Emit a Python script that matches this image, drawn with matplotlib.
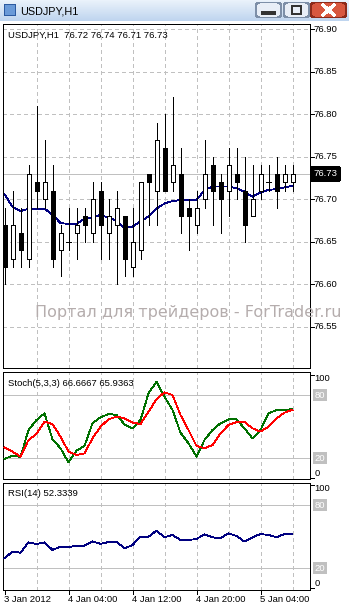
import numpy as np
import matplotlib.pyplot as plt
from matplotlib import transforms
from matplotlib.patches import Rectangle, FancyBboxPatch

plt.rcParams['font.family'] = ['Liberation Sans', 'DejaVu Sans']
plt.rcParams['lines.scale_dashes'] = False
plt.rcParams['lines.antialiased'] = False
plt.rcParams['patch.antialiased'] = False

W, H = 349, 606
LW = 0.72  # one pixel
LT = 0.6   # thin data lines

symbol = "USDJPY,H1"
opens = [76.67, 76.63, 76.66, 76.63, 76.72, 76.70, 76.71, 76.64, 76.65, 76.66,
         76.68, 76.66, 76.71, 76.66, 76.67, 76.68, 76.62, 76.64, 76.73, 76.71,
         76.76, 76.72, 76.73, 76.69, 76.67, 76.70, 76.74, 76.72, 76.71, 76.73,
         76.71, 76.68, 76.71, 76.72, 76.73, 76.72, 76.72]
highs = [76.69, 76.71, 76.69, 76.74, 76.81, 76.77, 76.74, 76.67, 76.69, 76.69,
         76.69, 76.72, 76.72, 76.70, 76.71, 76.68, 76.69, 76.72, 76.73, 76.79,
         76.80, 76.82, 76.76, 76.70, 76.71, 76.77, 76.75, 76.73, 76.76, 76.76,
         76.75, 76.74, 76.74, 76.74, 76.75, 76.74, 76.74]
lows = [76.60, 76.62, 76.62, 76.62, 76.69, 76.69, 76.62, 76.61, 76.64, 76.63,
        76.65, 76.65, 76.63, 76.63, 76.60, 76.61, 76.61, 76.63, 76.67, 76.67,
        76.71, 76.71, 76.66, 76.64, 76.66, 76.69, 76.67, 76.66, 76.68, 76.70,
        76.65, 76.68, 76.70, 76.71, 76.69, 76.71, 76.71]
closes = [76.62, 76.67, 76.64, 76.73, 76.71, 76.72, 76.63, 76.66, 76.65, 76.67,
          76.67, 76.70, 76.67, 76.68, 76.69, 76.63, 76.65, 76.72, 76.72, 76.77,
          76.71, 76.74, 76.68, 76.68, 76.69, 76.73, 76.71, 76.70, 76.74, 76.72,
          76.67, 76.70, 76.73, 76.72, 76.71, 76.73, 76.73]
ma = [76.706, 76.691, 76.686, 76.689, 76.689, 76.689, 76.682, 76.672, 76.671, 76.671,
      76.677, 76.678, 76.682, 76.678, 76.675, 76.666, 76.668, 76.674, 76.680, 76.689,
      76.695, 76.698, 76.699, 76.699, 76.699, 76.711, 76.715, 76.715, 76.715, 76.713,
      76.709, 76.703, 76.708, 76.711, 76.712, 76.714, 76.716]
stoch_main = [19.4, 22.5, 21.3, 46.8, 56.3, 62.6, 38.0, 29.5, 16.2, 27.3,
              31.7, 53.2, 58.8, 62.0, 61.1, 52.2, 48.4, 56.3, 81.6, 92.6,
              78.4, 65.8, 44.3, 34.2, 21.6, 37.4, 46.8, 53.2, 56.9, 56.9,
              48.4, 38.9, 46.8, 62.6, 65.8, 65.8, 66.6667]
stoch_signal = [30.4, 26.3, 21.6, 37.4, 43.1, 54.7, 52.5, 40.5, 26.3, 23.2,
                24.7, 38.9, 50.0, 56.9, 59.5, 57.9, 53.8, 52.5, 64.2, 75.9,
                82.5, 80.0, 61.1, 46.8, 31.7, 29.5, 32.6, 43.7, 51.6, 54.4,
                54.4, 48.4, 45.3, 50.0, 57.9, 63.3, 65.9363]
rsi = [29.5, 35.8, 34.8, 44.6, 43.1, 44.6, 37.4, 40.5, 39.9, 41.5,
       41.5, 45.6, 43.1, 44.9, 45.3, 38.9, 42.1, 50.0, 50.0, 55.7,
       49.4, 51.6, 46.8, 46.8, 47.8, 52.2, 49.4, 48.4, 53.2, 50.6,
       45.3, 49.4, 52.5, 51.6, 49.4, 52.5, 52.3339]
time_labels = ["3 Jan 2012", "4 Jan 04:00", "4 Jan 12:00", "4 Jan 20:00", "5 Jan 04:00"]
price_ticks = [76.55, 76.60, 76.65, 76.70, 76.75, 76.80, 76.85, 76.90]
bid = 76.73

grid_c = "#c0c0c0"
fs = 6.8


def box(x0, y0, x1, y1):
    return [x0 / W, 1 - y1 / H, (x1 - x0) / W, (y1 - y0) / H]


fig = plt.figure(figsize=(W / 100, H / 100), dpi=100)
fig.patch.set_facecolor("white")

# title bar
tb = fig.add_axes(box(0, 0, W, 21))
grad = np.linspace(0, 1, 21)[:, None]
tb.imshow(grad, aspect="auto", cmap=plt.matplotlib.colors.LinearSegmentedColormap.from_list(
    "tb", ["#eaf2fb", "#bfd5ef"]), extent=(0, W, 21, 0))
tb.set_xlim(0, W)
tb.set_ylim(21, 0)
tb.axis("off")
tb.text(20, 11, symbol, fontsize=7.8, va="center", ha="left")
tb.add_patch(Rectangle((4, 4), 11, 11, facecolor="#6a9ad8", edgecolor="#2c5aa0", lw=LW))
for bx, w_ in [(256, 26), (284, 26)]:
    tb.add_patch(FancyBboxPatch((bx, 2.5), w_ - 1, 15, boxstyle="round,pad=0,rounding_size=3",
                                facecolor="#e8eef7", edgecolor="#7d8fa8", lw=LW))
tb.add_patch(FancyBboxPatch((311, 2.5), 35, 15, boxstyle="round,pad=0,rounding_size=3",
                            facecolor="#d8573f", edgecolor="#8c2a1a", lw=LW))
tb.plot([263, 274], [13, 13], color="#333333", lw=1.5)
tb.add_patch(Rectangle((292, 6), 9, 8, facecolor="none", edgecolor="#333333", lw=1.2))
tb.plot([323, 334], [5, 15], color="white", lw=1.8)
tb.plot([323, 334], [15, 5], color="white", lw=1.8)

ax = fig.add_axes(box(3, 24, 310, 368))
sto = fig.add_axes(box(3, 372, 310, 479))
rs = fig.add_axes(box(3, 483, 310, 589.5))

n = len(opens)
x = np.arange(n)
xl = ((3 - 4.5) / 8, (310 - 4.5) / 8)

for a in (ax, sto, rs):
    a.set_xlim(*xl)
    a.set_facecolor("white")
    for s in a.spines.values():
        s.set_color("black")
        s.set_linewidth(LW)
    a.set_xticks([])
    a.set_yticks([])
    for gx in range(4, n, 4):
        a.axvline(gx, color=grid_c, lw=LT, dashes=(2.2, 2.2), zorder=0)

# main price panel
ax.set_ylim(76.90 - (368 - 29.3) * 0.05 / 42.5, 76.90 + (29.3 - 24) * 0.05 / 42.5)
for p in price_ticks:
    ax.axhline(p, color=grid_c, lw=LT, dashes=(2.2, 2.2), zorder=0)
ax.axhline(bid, color=grid_c, lw=LT, zorder=1)
ax.plot(x, ma, color="#000080", lw=LT, zorder=2)

o = np.array(opens)
c = np.array(closes)
ax.vlines(x, lows, highs, color="black", lw=LT, zorder=3)
bull = c > o
bear = c < o
ax.bar(x[bull], (c - o)[bull], bottom=o[bull], width=0.5, facecolor="white",
       edgecolor="black", lw=LT, zorder=4)
ax.bar(x[bear], (o - c)[bear], bottom=c[bear], width=0.5, facecolor="black",
       edgecolor="black", lw=LT, zorder=4)
doji = c == o
ax.hlines(c[doji], x[doji] - 0.3, x[doji] + 0.3, color="black", lw=LT, zorder=4)

tr = transforms.blended_transform_factory(ax.transAxes, ax.transData)
for p in price_ticks:
    ax.plot([1, 1.012], [p, p], color="black", lw=LT, transform=tr, clip_on=False)
    ax.text(1.012, p, f"{p:.2f}", transform=tr, fontsize=fs, va="center", ha="left")
ax.text(1.01, bid, f"{bid:.2f}", transform=tr, fontsize=fs, va="center", ha="left",
        color="white", bbox=dict(facecolor="black", edgecolor="black", pad=1.4))
ax.text(5 / 307, 1 - 11 / 344, f"{symbol}  {opens[-1]:.2f} {highs[-1]:.2f} {lows[-1]:.2f} {closes[-1]:.2f}",
        transform=ax.transAxes, fontsize=fs, va="center", ha="left")

fig.text(188 / W, 1 - 313 / H, "Портал для трейдеров - ForTrader.ru", fontsize=11.5,
         color="#b5adad", ha="center", va="center", family=["DejaVu Sans"])


def oscillator(a, y_top, y_bot, y80, y20, label):
    ppu = (y20 - y80) / 60
    a.set_ylim(20 - (y_bot - y20) / ppu, 80 + (y80 - y_top) / ppu)
    for lv in (80, 20):
        a.axhline(lv, color=grid_c, lw=LT, zorder=1)
    t = transforms.blended_transform_factory(a.transAxes, a.transData)
    a.text(1.014, 95.2, "100", transform=t, fontsize=fs, va="center", ha="left")
    a.text(1.014, 5.8, "0", transform=t, fontsize=fs, va="center", ha="left")
    for lv in (80, 20):
        a.text(1.016, lv, str(lv), transform=t, fontsize=fs, va="center", ha="left",
               color="white", bbox=dict(facecolor=grid_c, edgecolor="none", pad=1.0))
    for lv in (99, 1):
        a.plot([1, 1.012], [lv, lv], color="black", lw=LT, transform=t, clip_on=False)
    a.text(5 / 307, 1 - 11 / (y_bot - y_top), label, transform=a.transAxes,
           fontsize=fs, va="center", ha="left")


oscillator(sto, 372, 479, 395, 458.3,
           f"Stoch(5,3,3) {stoch_main[-1]:.4f} {stoch_signal[-1]:.4f}")
sto.plot(x, stoch_main, color="#007000", lw=LT, zorder=3)
sto.plot(x, stoch_signal, color="#ff0000", lw=LT, zorder=3)

oscillator(rs, 483, 589.5, 505, 568.3, f"RSI(14) {rsi[-1]:.4f}")
rs.plot(x, rsi, color="#000080", lw=LT, zorder=3)

# time axis
xt = transforms.blended_transform_factory(rs.transData, rs.transAxes)
for lx, lab in zip(np.arange(0, n, 8), time_labels):
    rs.plot([lx, lx], [0, -0.04], color="black", lw=LT, transform=xt, clip_on=False)
    rs.text(lx - 0.1, -0.09, lab, fontsize=fs, va="center", ha="left", transform=xt)

fig.savefig("out.png", dpi=100)
